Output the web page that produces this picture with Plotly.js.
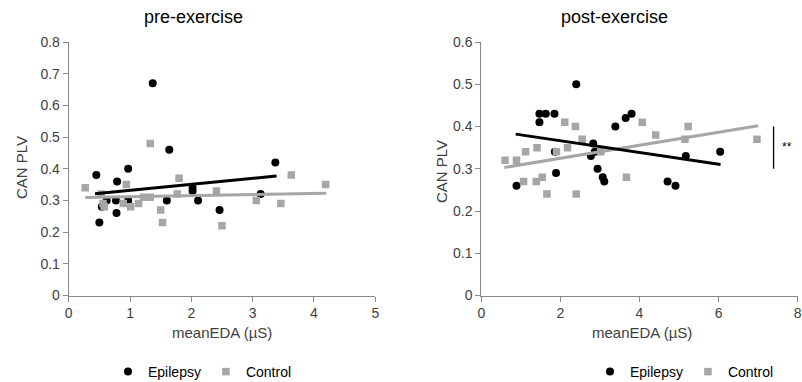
<!DOCTYPE html>
<html>
<head>
<meta charset="utf-8">
<script src="https://cdn.plot.ly/plotly-3.0.1.min.js"></script>
<style>html,body{margin:0;padding:0;background:#fff;}#chart{width:802px;height:382px;}</style>
</head>
<body>
<div id="chart"></div>
<script>
// ---- pre-exercise data ----
const preEpilepsyX = [0.45,0.50,0.54,0.62,0.77,0.79,0.78,0.97,0.97,1.37,1.64,1.60,2.02,2.02,2.11,2.46,3.13,3.37];
const preEpilepsyY = [0.38,0.23,0.28,0.30,0.30,0.36,0.26,0.40,0.30,0.67,0.46,0.30,0.34,0.33,0.30,0.27,0.32,0.42];
const preControlX = [0.27,0.53,0.56,0.58,0.89,0.94,1.01,1.14,1.22,1.33,1.33,1.50,1.53,1.77,1.80,2.41,2.50,3.06,3.46,3.63,4.19];
const preControlY = [0.34,0.32,0.29,0.28,0.29,0.35,0.28,0.29,0.31,0.31,0.48,0.27,0.23,0.32,0.37,0.33,0.22,0.30,0.29,0.38,0.35];
const preEpilepsyTrendX = [0.43,3.39];
const preEpilepsyTrendY = [0.321,0.377];
const preControlTrendX = [0.27,4.20];
const preControlTrendY = [0.309,0.323];

// ---- post-exercise data ----
const postEpilepsyX = [0.89,1.47,1.47,1.63,1.85,1.89,1.86,2.40,2.77,2.83,2.87,2.94,3.07,3.11,3.39,3.65,3.80,4.71,4.91,5.17,6.04];
const postEpilepsyY = [0.26,0.43,0.41,0.43,0.43,0.29,0.34,0.50,0.33,0.36,0.34,0.30,0.28,0.27,0.40,0.42,0.43,0.27,0.26,0.33,0.34];
const postControlX = [0.60,0.89,1.07,1.12,1.39,1.41,1.54,1.66,1.90,2.11,2.18,2.38,2.40,2.55,3.02,3.67,4.07,4.41,5.15,5.23,6.97];
const postControlY = [0.32,0.32,0.27,0.34,0.27,0.35,0.28,0.24,0.34,0.41,0.35,0.40,0.24,0.37,0.34,0.28,0.41,0.38,0.37,0.40,0.37];
const postEpilepsyTrendX = [0.87,6.05];
const postEpilepsyTrendY = [0.382,0.310];
const postControlTrendX = [0.58,7.00];
const postControlTrendY = [0.303,0.402];

// significance bracket (post-exercise)
const sigX = [7.39,7.39];
const sigY = [0.30,0.40];
const sigLabel = "**";

const seriesNames = ["Epilepsy","Control"];
const panelTitles = ["pre-exercise","post-exercise"];
const xTitle = "meanEDA (µS)";
const yTitle = "CAN PLV";

const BLACK = "#000000", GREY = "#a6a6a6", AXIS = "#898989", TXT = "#404040";
const FONT = "Liberation Sans, Arial, sans-serif";

function pts(x,y,name,color,symbol,xa,ya,leg,show){
  return {x:x,y:y,name:name,type:"scatter",mode:"markers",xaxis:xa,yaxis:ya,legend:leg,showlegend:show,
    marker:{color:color,symbol:symbol,size:symbol==="square"?7.5:8,line:{width:0}}};
}
function trend(x,y,color,xa,ya){
  return {x:x,y:y,type:"scatter",mode:"lines",xaxis:xa,yaxis:ya,showlegend:false,hoverinfo:"skip",
    line:{color:color,width:3}};
}

const data = [
  pts(preEpilepsyX,preEpilepsyY,seriesNames[0],BLACK,"circle","x","y","legend",true),
  pts(preControlX,preControlY,seriesNames[1],GREY,"square","x","y","legend",true),
  trend(preControlTrendX,preControlTrendY,GREY,"x","y"),
  trend(preEpilepsyTrendX,preEpilepsyTrendY,BLACK,"x","y"),
  pts(postEpilepsyX,postEpilepsyY,seriesNames[0],BLACK,"circle","x2","y2","legend2",true),
  pts(postControlX,postControlY,seriesNames[1],GREY,"square","x2","y2","legend2",true),
  trend(postControlTrendX,postControlTrendY,GREY,"x2","y2"),
  trend(postEpilepsyTrendX,postEpilepsyTrendY,BLACK,"x2","y2"),
  {x:sigX,y:sigY,type:"scatter",mode:"lines",xaxis:"x2",yaxis:"y2",showlegend:false,hoverinfo:"skip",
   line:{color:BLACK,width:1.3}}
];

const W = 802, H = 382;
const yDom = [(H-295.5)/H, (H-42)/H];
function xax(dom,range,dtick,anchor){
  return {domain:dom,range:range,dtick:dtick,anchor:anchor,showgrid:false,zeroline:false,showline:true,automargin:false,
    linecolor:AXIS,linewidth:1,ticks:"outside",ticklen:5,tickcolor:AXIS,tickfont:{family:FONT,size:14,color:TXT},fixedrange:true};
}
function yax(range,anchor,fmt){
  return {domain:yDom,range:range,dtick:0.1,anchor:anchor,showgrid:false,zeroline:false,showline:true,tickformat:fmt,automargin:false,
    linecolor:AXIS,linewidth:1,ticks:"outside",ticklen:5,tickcolor:AXIS,tickfont:{family:FONT,size:14,color:TXT},fixedrange:true};
}

const ann = (text,xp,yp,size,extra)=>Object.assign({text:text,x:xp/W,y:(H-yp)/H,xref:"paper",yref:"paper",
  showarrow:false,xanchor:"center",yanchor:"middle",font:{family:FONT,size:size,color:"#000"}},extra||{});

const legendBase = {orientation:"h",y:(H-372)/H,xanchor:"left",yanchor:"middle",font:{family:FONT,size:14,color:"#000"},
  bgcolor:"rgba(0,0,0,0)",itemwidth:30,tracegroupgap:0};

const layout = {
  width:W,height:H,margin:{l:0,r:0,t:0,b:0,autoexpand:false},paper_bgcolor:"#fff",plot_bgcolor:"#fff",
  font:{family:FONT},
  xaxis:xax([68.7/W,375.3/W],[0,5],1,"y"),
  yaxis:yax([0,0.8],"x",".1~f"),
  xaxis2:xax([481.3/W,797.7/W],[0,8],2,"y2"),
  yaxis2:yax([0,0.6],"x2",".1~f"),
  legend:Object.assign({},legendBase,{x:108/W}),
  legend2:Object.assign({},legendBase,{x:590/W}),
  annotations:[
    ann(panelTitles[0],193,17,18),
    ann(panelTitles[1],614,17,18),
    ann(xTitle,222,332,15,{font:{family:FONT,size:15,color:TXT}}),
    ann(xTitle,642,332,15,{font:{family:FONT,size:15,color:TXT}}),
    ann(yTitle,21,168,15,{textangle:-90,font:{family:FONT,size:15,color:TXT}}),
    ann(yTitle,441,172,15,{textangle:-90,font:{family:FONT,size:15,color:TXT}}),
    {text:sigLabel,x:7.72,y:0.352,xref:"x2",yref:"y2",showarrow:false,xanchor:"center",yanchor:"middle",
     font:{family:FONT,size:12,color:"#000"}}
  ]
};

Plotly.newPlot("chart",data,layout,{staticPlot:true,displayModeBar:false});
</script>
</body>
</html>
